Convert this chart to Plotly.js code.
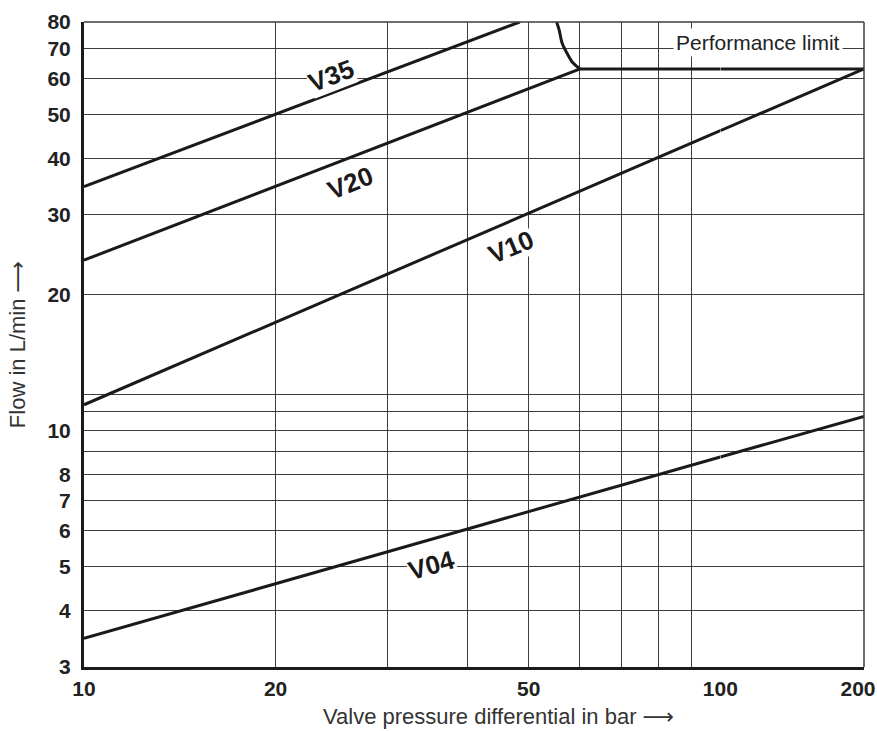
<!DOCTYPE html>
<html>
<head>
<meta charset="utf-8">
<script src="https://cdn.plot.ly/plotly-3.0.1.min.js"></script>
<style>
  html, body { margin: 0; padding: 0; background: #ffffff; }
  #chart { width: 877px; height: 731px; }
</style>
</head>
<body>
<div id="chart"></div>
<script>
// Flow characteristics of the valve sizes (pressure differential in bar, flow in L/min)
const pressureV35 = [10, 48.4];
const flowV35     = [34.6, 80];

const pressureV20 = [10, 60.2];
const flowV20     = [23.8, 63];

const pressureV10 = [10, 100, 200];
const flowV10     = [11.4, 46, 63];

const pressureV04 = [10, 100, 200];
const flowV04     = [3.47, 8.74, 10.74];

// Performance limit: steep rise near 55-60 bar, then flat
const limitPressure = [55.3, 55.8, 56.4, 57.4, 58.7, 60.2, 100, 200];
const limitFlow     = [80, 76.9, 71.9, 68.3, 64.9, 63, 63, 63];

// Axis ticks
const xTickVals   = [10, 20, 30, 40, 50, 60, 70, 80, 90, 100];
const xTickText   = ['10', '20', '', '', '50', '', '', '', '', '100'];
const x2TickVals  = [200];
const x2TickText  = ['200'];
const yTickVals   = [3, 4, 5, 6, 7, 8, 9, 10, 11, 12, 20, 30, 40, 50, 60, 70, 80];
const yTickText   = ['3', '4', '5', '6', '7', '8', '', '10', '', '', '20', '30', '40', '50', '60', '70', '80'];

// Curve labels: text, position (bar, L/min), angle
const curveNames  = ['V35', 'V20', 'V10', 'V04'];
const labelX      = [24.4, 26.2, 46.9, 35.2];
const labelY      = [60.9, 35.3, 25.4, 5.05];
const labelAngle  = [-21, -22, -23, -16];

const FONT = '"Liberation Sans", Arial, sans-serif';
const INK = '#1a1a1a';
const GRID = '#3c3c3c';

// The scale is drawn in two log sections: 10-100 bar and 100-200 bar
const SPLIT = 100;
const X1_END = 0.8158;

function part(xs, ys, lo, hi) {
  const px = [], py = [];
  xs.forEach((v, i) => { if (v >= lo && v <= hi) { px.push(v); py.push(ys[i]); } });
  return { x: px, y: py };
}

function lineTrace(pts, axis, shape) {
  return {
    x: pts.x, y: pts.y, xaxis: axis, yaxis: 'y',
    type: 'scatter', mode: 'lines', hoverinfo: 'skip', showlegend: false,
    line: { color: INK, width: 3, shape: shape || 'linear', smoothing: 1 }
  };
}

const traces = [];
[[pressureV35, flowV35], [pressureV20, flowV20], [pressureV10, flowV10], [pressureV04, flowV04]]
  .forEach(([xs, ys]) => {
    const a = part(xs, ys, 0, SPLIT);
    if (a.x.length > 1) traces.push(lineTrace(a, 'x'));
    const b = part(xs, ys, SPLIT, Infinity);
    if (b.x.length > 1) traces.push(lineTrace(b, 'x2'));
  });

const cornerX = limitPressure[5];
traces.push(lineTrace(part(limitPressure, limitFlow, 0, cornerX), 'x', 'spline'));
traces.push(lineTrace(part(limitPressure, limitFlow, cornerX, SPLIT), 'x'));
traces.push(lineTrace(part(limitPressure, limitFlow, SPLIT, Infinity), 'x2'));

const tickFont = { family: FONT, size: 21, color: '#222', weight: 'bold' };
const titleFont = { family: FONT, size: 22, color: '#333' };
const ARROW = '<span style="font-family:\'DejaVu Sans\'">⟶</span>';

const annotations = curveNames.map((name, i) => ({
  x: Math.log10(labelX[i]), y: Math.log10(labelY[i]), xref: 'x', yref: 'y',
  text: name, showarrow: false, textangle: labelAngle[i],
  xanchor: 'center', yanchor: 'middle',
  bgcolor: '#ffffff', borderpad: 0,
  font: { family: FONT, size: 26, color: INK, weight: 'bold' }
}));

annotations.push({
  x: 0.8635, y: 0.968, xref: 'paper', yref: 'paper',
  text: 'Performance limit', showarrow: false,
  xanchor: 'center', yanchor: 'middle', bgcolor: '#ffffff', borderpad: 2,
  font: { family: FONT, size: 21, color: '#222' }
});

annotations.push({
  x: 0.531, y: -0.077, xref: 'paper', yref: 'paper',
  text: 'Valve pressure differential in bar ' + ARROW, showarrow: false,
  xanchor: 'center', yanchor: 'middle',
  font: titleFont
});

const layout = {
  width: 877, height: 731,
  margin: { l: 84, r: 13, t: 22, b: 64 },
  paper_bgcolor: '#ffffff', plot_bgcolor: '#ffffff',
  showlegend: false,
  xaxis: {
    type: 'log', domain: [0, X1_END], range: [1, 2], anchor: 'y',
    tickmode: 'array', tickvals: xTickVals, ticktext: xTickText,
    ticks: '', ticklabelstandoff: 1, tickfont: tickFont,
    showgrid: true, gridcolor: GRID, gridwidth: 1.2,
    showline: true, linecolor: INK, linewidth: 3, zeroline: false
  },
  xaxis2: {
    type: 'log', domain: [X1_END, 1], range: [2, Math.log10(200)], anchor: 'y',
    tickmode: 'array', tickvals: x2TickVals, ticktext: x2TickText,
    ticks: '', ticklabelstandoff: 1, ticklabelshift: -6, tickfont: tickFont,
    showgrid: false, showline: true, linecolor: INK, linewidth: 3, zeroline: false
  },
  yaxis: {
    type: 'log', range: [Math.log10(3), Math.log10(80)],
    tickmode: 'array', tickvals: yTickVals, ticktext: yTickText,
    ticks: '', ticklabelstandoff: 6, tickfont: tickFont,
    showgrid: true, gridcolor: GRID, gridwidth: 1.2,
    showline: true, linecolor: INK, linewidth: 3, zeroline: false,
    title: { text: 'Flow in L/min ' + ARROW, standoff: 16, font: titleFont }
  },
  shapes: [
    { type: 'line', xref: 'paper', yref: 'paper', x0: 0, x1: 1, y0: 1, y1: 1, line: { color: GRID, width: 1.5 } },
    { type: 'line', xref: 'paper', yref: 'paper', x0: 1, x1: 1, y0: 0, y1: 1, line: { color: GRID, width: 1.5 } }
  ],
  annotations: annotations
};

Plotly.newPlot('chart', traces, layout, { staticPlot: true, displayModeBar: false });
</script>
</body>
</html>
